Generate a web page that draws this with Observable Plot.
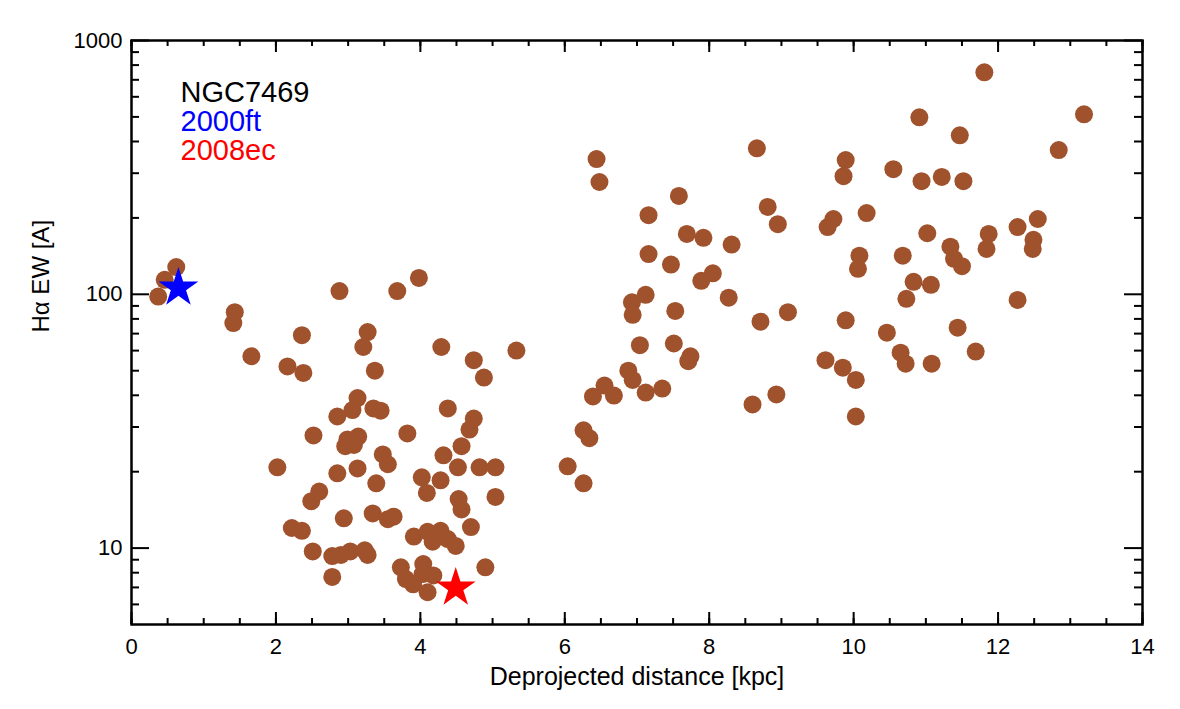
<!DOCTYPE html>
<html><head><meta charset="utf-8">
<script src="https://cdn.jsdelivr.net/npm/d3@7"></script>
<script src="https://cdn.jsdelivr.net/npm/@observablehq/plot@0.6"></script>
<style>html,body{margin:0;padding:0;background:#fff} svg{display:block}</style>
</head><body><div id="chart"></div>
<script>
// H-alpha equivalent width of HII regions vs deprojected galactocentric distance
const distance = [
  0.37,0.46,0.62,1.43,1.41,1.66,2.16,2.38,2.36,2.88,3.27,3.21,3.37,3.13,3.06,2.85,3.35,3.45,3.68,3.98,
  4.29,4.74,4.88,5.33,4.38,4.74,4.68,2.52,2.99,3.14,2.96,3.08,3.82,3.48,3.55,4.57,4.32,4.52,4.82,5.04,
  2.02,2.85,3.13,3.39,4.02,4.09,4.28,4.53,4.57,5.04,2.60,2.49,2.94,3.34,3.55,3.63,4.70,2.22,2.36,3.91,
  4.10,4.28,4.17,4.38,4.49,2.51,2.78,2.90,3.03,3.27,3.23,2.78,3.73,3.80,3.90,4.04,4.03,4.18,4.10,4.90,
  6.44,6.48,8.66,9.89,9.86,7.58,7.16,8.81,8.95,9.72,9.64,7.69,7.92,8.31,7.16,7.47,8.05,7.89,8.27,7.12,
  6.93,6.94,7.53,8.71,9.09,9.89,7.04,7.51,7.74,7.71,9.61,9.85,10.03,6.88,6.94,6.55,6.39,6.68,7.12,7.35,
  8.60,8.93,6.26,6.34,10.03,6.04,6.26,
  11.81,13.19,10.91,11.47,12.84,10.55,10.94,11.22,11.52,10.18,11.02,11.87,11.84,12.27,12.55,12.49,12.48,
  11.34,11.39,11.50,10.08,10.06,10.68,10.83,11.07,10.73,12.27,10.46,11.44,11.69,10.65,10.72,11.08
];
const ew = [
  98,114,128,85,77,57,52,49,69,103,71,62,50,39,35,33,35.5,34.8,103,116,
  62,55,47,60,35.5,32.4,29.3,27.8,26.8,27.5,25.2,25.5,28.3,23.4,21.4,25.2,23.2,20.8,20.8,20.8,
  20.8,19.7,20.6,18,19,16.5,18.5,15.6,14.2,15.9,16.7,15.3,13.1,13.7,13.0,13.3,12.1,12.0,11.7,11.1,
  11.6,11.7,10.6,10.85,10.2,9.7,9.3,9.4,9.7,9.4,9.8,7.7,8.4,7.55,7.2,8.65,7.9,7.8,6.7,8.4,
  341,277,376,338,292,244,205,221,189,198,184,173,167,157,144,131,121,113,97,99.5,
  93,83,86,78,85,79,63,64,57,54.5,55,51.4,46,50,46,43.7,39.6,39.9,41,42.5,
  36.8,40.3,29.1,27.1,33,21,18,
  749,512,498,423,370,311,279,290,279,209,174,173,151,184,198,164,151,
  154,138,129,142,126,142,112,109,96,95,70.6,73.9,59.5,58.9,53.3,53.3
];
// supernovae
const snNames = ["2000ft", "2008ec"];
const snDistance = [0.65, 4.49];
const snEW = [106, 6.97];
const snColors = ["blue", "red"];
const galaxy = "NGC7469";

// axis ticks
const xTicks = [0, 2, 4, 6, 8, 10, 12, 14];
const xMinor = d3.range(0, 14.001, 0.5);
const yTicks = [10, 100, 1000];
const yMinor = [6, 7, 8, 9, 20, 30, 40, 50, 60, 70, 80, 90, 200, 300, 400, 500, 600, 700, 800, 900];

const xTitle = "Deprojected distance [kpc]";
const yTitle = "Hα EW [A]";

const points = distance.map((d, i) => ({distance: d, ew: ew[i]}));
const sn = snNames.map((n, i) => ({name: n, distance: snDistance[i], ew: snEW[i], color: snColors[i]}));

// layout
const W = 1180, H = 709, ML = 131, MR = 38, MT = 40, MB = 85;
const FW = W - ML - MR, FH = H - MT - MB;
const majX = 12, minX = 6, majY = 18, minY = 8;

const font = "'Liberation Sans', Arial, Helvetica, sans-serif";
const tk = {stroke: "black", strokeWidth: 2};

const chart = Plot.plot({
  width: W,
  height: H,
  marginLeft: ML,
  marginRight: MR,
  marginTop: MT,
  marginBottom: MB,
  style: {fontFamily: font, fontSize: "22px", color: "black", background: "white"},
  x: {domain: [0, 14]},
  y: {type: "log", domain: [5, 1000]},
  color: {type: "identity"},
  marks: [
    Plot.dot(points, {x: "distance", y: "ew", r: 9, fill: "#a0522d", stroke: "none"}),
    Plot.dot(sn, {x: "distance", y: "ew", symbol: "star", r: 12.5, fill: "color", stroke: "none"}),
    // tick labels
    Plot.axisX(xTicks, {anchor: "bottom", tickSize: 0, tickPadding: 14, tickFormat: d => String(d), label: null, fontSize: 22}),
    Plot.axisY(yTicks, {anchor: "left", tickSize: 0, tickPadding: 9, tickFormat: d => String(d), label: null, fontSize: 22}),
    // inward ticks on all four sides
    Plot.tickX(xTicks, {x: d => d, insetTop: FH - majX, ...tk}),
    Plot.tickX(xMinor, {x: d => d, insetTop: FH - minX, ...tk}),
    Plot.tickX(xTicks, {x: d => d, insetBottom: FH - majX, ...tk}),
    Plot.tickX(xMinor, {x: d => d, insetBottom: FH - minX, ...tk}),
    Plot.tickY(yTicks, {y: d => d, insetRight: FW - majY, ...tk}),
    Plot.tickY(yMinor, {y: d => d, insetRight: FW - minY, ...tk}),
    Plot.tickY(yTicks, {y: d => d, insetLeft: FW - majY, ...tk}),
    Plot.tickY(yMinor, {y: d => d, insetLeft: FW - minY, ...tk}),
    Plot.frame({stroke: "black", strokeWidth: 2.5}),
    // axis titles
    Plot.text([xTitle], {frameAnchor: "bottom", dy: 52, text: d => d, fontSize: 25, lineAnchor: "middle", fill: "black"}),
    Plot.text([yTitle], {frameAnchor: "left", dx: -90, rotate: -90, text: d => d, fontSize: 24, lineAnchor: "middle", fill: "black"}),
    // in-plot legend
    Plot.text([galaxy], {frameAnchor: "top-left", dx: 49, dy: 52, text: d => d, fontSize: 29, textAnchor: "start", lineAnchor: "middle", fill: "black"}),
    Plot.text([sn[0]], {frameAnchor: "top-left", dx: 49, dy: 81, text: "name", fontSize: 29, textAnchor: "start", lineAnchor: "middle", fill: "color"}),
    Plot.text([sn[1]], {frameAnchor: "top-left", dx: 49, dy: 110, text: "name", fontSize: 29, textAnchor: "start", lineAnchor: "middle", fill: "color"})
  ]
});
document.getElementById("chart").appendChild(chart);
</script>
</body></html>
